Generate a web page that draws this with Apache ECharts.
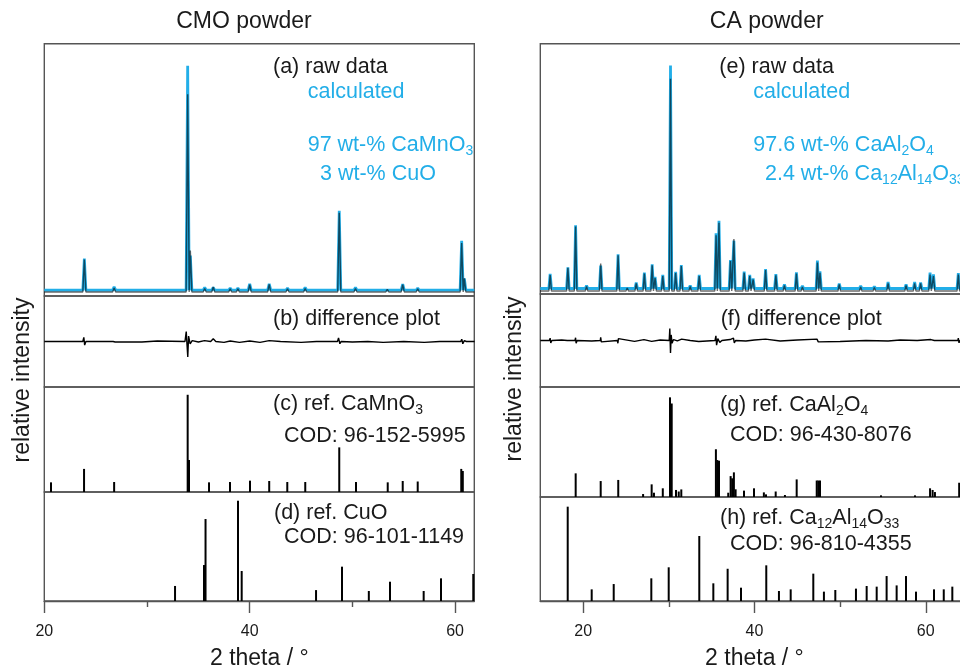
<!DOCTYPE html>
<html>
<head>
<meta charset="utf-8">
<script src="https://cdn.jsdelivr.net/npm/echarts@6.0.0/dist/echarts.min.js"></script>
<style>
  html, body { margin: 0; padding: 0; background: #fff; }
  #chart { width: 960px; height: 667px; }
</style>
</head>
<body>
<div id="chart"></div>
<script>
// tick labels
var majorTicks = [20, 40, 60];
var minorTicks = [30, 50];

// (a) CMO raw data / calculated: peak positions (2 theta) and heights (% of panel)
var cmoPos  = [23.9, 26.8, 33.96, 34.22, 35.62, 36.45, 38.1, 38.85, 40.0, 41.9, 43.68, 45.4, 48.72, 50.3, 53.4, 54.9, 56.36, 60.64, 60.9];
var cmoCalc = [14.8, 3.6, 91.3, 16, 3.4, 3.4, 3.2, 3.2, 4.8, 4.8, 3.2, 3.4, 33.8, 3.4, 3.0, 4.7, 3.2, 21.9, 7];
var cmoRaw  = [14.5, 3.2, 80, 18, 3.0, 3.6, 2.8, 2.8, 4.5, 4.6, 2.8, 3.0, 33.0, 3.0, 2.6, 4.5, 2.8, 21.0, 7];
var cmoCalcBase = 2.3;
var cmoRawBase = 1.6;

// (b) CMO difference plot
var cmoDiff = [
  [20, 0], [23.75, 0], [23.85, 0.09], [23.93, -0.08], [24.05, 0],
  [26.7, 0], [26.8, 0.03], [26.9, -0.01], [27, 0],
  [29.5, -0.01], [31, 0.01], [33.7, 0], [33.82, 0.22], [33.9, -0.08], [33.97, -0.34],
  [34.05, 0.12], [34.2, -0.05], [34.4, 0.02], [35, -0.01], [35.6, 0.02],
  [36.2, 0], [36.45, 0.06], [36.7, 0], [37.5, -0.02], [38.1, 0.01], [39, -0.02],
  [40, 0.01], [41, -0.02], [41.9, 0.02], [43, 0], [45, -0.02], [46.5, 0],
  [48.55, 0], [48.65, 0.08], [48.78, -0.05], [48.9, 0], [50, -0.01], [51.5, 0],
  [53, -0.02], [55, 0], [57, -0.02], [58.5, 0],
  [60.55, 0], [60.65, 0.05], [60.75, -0.05], [60.9, 0.02], [61.1, 0], [61.9, 0]
];

// (c) ref. CaMnO3 sticks
var cmoRefPos = [20.65, 23.87, 26.8, 33.96, 34.09, 36.04, 38.08, 40.03, 41.9, 43.66, 45.41, 48.72, 50.35, 53.44, 54.9, 56.36, 60.6, 60.75];
var cmoRefInt = [9.2, 22, 9.5, 92.6, 30.5, 9.2, 9.5, 10.8, 10.5, 9.5, 9.5, 42.5, 9.5, 9.2, 10.5, 10, 22, 20];

// (d) ref. CuO sticks
var cuoRefPos = [32.73, 35.55, 35.7, 38.86, 39.22, 46.46, 48.99, 51.6, 53.66, 56.94, 58.63, 61.77];
var cuoRefInt = [13.8, 33, 75.2, 92, 27.5, 10, 31.5, 9.2, 17.7, 9.2, 20.8, 24.8];

// (e) CA raw data / calculated
var caPos  = [16.15, 18.22, 19.12, 20.4, 22.05, 24.08, 25.15, 26.2, 27.15, 28.06, 28.4, 29.3, 30.2, 30.8, 31.46, 32.5, 33.55, 35.52, 35.86, 37.2, 37.6, 38.8, 39.45, 39.85, 41.3, 42.5, 43.5, 44.9, 45.6, 47.35, 47.65, 49.9, 52.4, 54.0, 55.6, 57.7, 58.7, 59.4, 60.5, 60.9, 63.8];
var caCalc = [8, 10.7, 27.5, 3.4, 11.4, 15.9, 2.8, 4.6, 8.5, 11.9, 6.8, 7.6, 91.3, 8.8, 11.6, 3.4, 7.6, 24.3, 29.3, 13.6, 21.3, 8.9, 7.6, 6.2, 10, 7.9, 3.8, 8.6, 3.2, 13.4, 9, 4.2, 3.2, 3, 4.8, 3.8, 4.8, 4.6, 8.5, 7.8, 8.3];
var caRaw  = [7.6, 10.5, 27, 3, 12.2, 15.5, 2.4, 4.2, 8.2, 11.5, 6.4, 7.2, 86, 8.4, 11.2, 3, 7.2, 23.5, 28.5, 13.2, 22, 8.5, 7.2, 5.8, 9.6, 7.5, 3.4, 8.2, 2.8, 12.6, 8.5, 3.8, 2.8, 2.6, 4.2, 3.4, 4.2, 4.2, 7.8, 7.2, 7.8];
var caCalcBase = 2.2;
var caRawBase = 1.2;

// (f) CA difference plot
var caDiff = [
  [15, 0], [16.05, 0], [16.15, 0.05], [16.22, -0.05], [16.35, 0],
  [17.5, 0.01], [18.15, 0], [18.22, 0.04], [18.28, -0.04], [18.4, 0],
  [19.05, 0], [19.12, 0.06], [19.18, -0.06], [19.3, 0],
  [21, -0.01], [22, 0], [22.05, 0.07], [22.12, -0.03], [22.3, 0],
  [24.0, 0], [24.06, -0.06], [24.12, 0.04], [24.3, 0],
  [26, -0.02], [27.1, 0.02], [28, -0.02], [29, 0.01],
  [30.05, 0], [30.12, 0.26], [30.2, -0.27], [30.28, 0.12], [30.38, -0.06], [30.55, 0.02],
  [31, -0.01], [31.5, 0.03], [32.5, 0], [33.5, -0.02],
  [35.4, 0], [35.5, 0.1], [35.58, -0.1], [35.72, 0.04], [35.86, 0.07], [35.95, -0.04], [36.2, 0],
  [37.15, 0.02], [37.3, -0.02], [37.55, 0.05], [37.65, -0.05], [37.8, 0],
  [39, -0.01], [40, 0.01], [41.3, 0.03], [41.4, 0], [43, -0.01], [45, 0.01],
  [47.3, 0.03], [47.45, -0.03], [47.6, 0], [50, -0.02], [53, 0], [55.6, -0.01],
  [57, 0.01], [59, 0], [60.6, 0.02], [60.8, -0.02], [61, 0],
  [63.75, 0], [63.8, 0.05], [63.88, -0.05], [64, 0], [65, 0]
];

// (g) ref. CaAl2O4 sticks
var caRefPos = [19.13, 22.05, 24.1, 27.0, 28.0, 28.27, 29.3, 30.14, 30.34, 30.84, 31.16, 31.46, 35.5, 35.66, 35.86, 36.94, 37.22, 37.4, 37.6, 37.8, 38.78, 39.95, 41.1, 41.35, 42.48, 43.56, 44.93, 47.27, 47.45, 47.65, 54.77, 58.74, 60.5, 60.8, 61.07, 63.9];
var caRefInt = [21.5, 14.5, 15.5, 2.7, 11.5, 3.9, 7.9, 90.6, 85, 6.4, 5, 6.9, 43.4, 33.6, 33, 3.9, 19, 17, 22.4, 7, 5.8, 7.9, 4.2, 2.4, 5, 1.8, 16, 15, 15, 15, 1.5, 1.5, 7.9, 6.4, 4.5, 13];

// (h) ref. Ca12Al14O33 sticks
var c12RefPos = [18.2, 21.0, 23.57, 27.96, 29.99, 33.56, 35.2, 36.87, 38.43, 41.38, 42.86, 44.23, 46.87, 48.11, 49.44, 51.85, 53.1, 54.27, 55.43, 56.6, 57.69, 58.86, 60.96, 62.1, 63.1];
var c12RefInt = [90.7, 11.2, 16.3, 21.8, 32.4, 62.5, 17, 31, 12.8, 34.3, 9.6, 11.2, 26.3, 9, 10.6, 11.9, 14.4, 13.8, 24, 15, 24, 9, 11.2, 11.2, 13.8];

var FONT = 'Liberation Sans';
var BLUE = '#22aee8';
var INK = '#1a1a1a';
var FRAME = '#555';
var HALF_W = 0.15;   // drawn half width of a peak, degrees

var L = { left: 44.3, width: 430, min: 20, max: 61.87 };
var R = { left: 540.3, width: 428.3, min: 15, max: 65 };

// peak list -> polyline vertices
function profile(pos, h, base, xmin, xmax) {
  var pts = [[xmin, base]];
  for (var i = 0; i < pos.length; i++) {
    pts.push([pos[i] - HALF_W, base], [pos[i], h[i]], [pos[i] + HALF_W, base]);
  }
  pts.push([xmax, base]);
  return pts;
}
function sticks(pos, h) {
  return pos.map(function (p, i) { return [p, h[i]]; });
}

var panels = [
  { col: L, top: 43.7, height: 252.3, ymin: 0, ymax: 100 },
  { col: L, top: 296, height: 91, ymin: -1, ymax: 1 },
  { col: L, top: 387, height: 105, ymin: 0, ymax: 100 },
  { col: L, top: 492, height: 109, ymin: 0, ymax: 100, bottom: true },
  { col: R, top: 43.7, height: 250.3, ymin: 0, ymax: 100 },
  { col: R, top: 294, height: 93, ymin: -1, ymax: 1 },
  { col: R, top: 387, height: 110, ymin: 0, ymax: 100 },
  { col: R, top: 497, height: 104, ymin: 0, ymax: 100, bottom: true }
];

var grids = [], xAxes = [], yAxes = [];
panels.forEach(function (p, i) {
  grids.push({
    left: p.col.left, top: p.top, width: p.col.width, height: p.height,
    outerBoundsMode: 'none', containLabel: false,
    show: true, borderColor: FRAME, borderWidth: 1.4, backgroundColor: 'transparent'
  });
  yAxes.push({ gridIndex: i, type: 'value', min: p.ymin, max: p.ymax, show: false });
  if (p.bottom) {
    xAxes.push({
      gridIndex: i, type: 'value', min: p.col.min, max: p.col.max, position: 'bottom',
      name: '2 theta / °', nameLocation: 'middle', nameGap: 46,
      nameTextStyle: { fontSize: 23, color: INK, fontFamily: FONT },
      axisLine: { show: true, onZero: false, lineStyle: { color: FRAME, width: 1.4 } },
      axisTick: { show: true, length: 12, customValues: majorTicks, lineStyle: { color: FRAME, width: 1.4 } },
      axisLabel: { show: true, margin: 23, customValues: majorTicks, fontSize: 16, color: INK, fontFamily: FONT },
      splitLine: { show: false }
    });
  } else {
    xAxes.push({ gridIndex: i, type: 'value', min: p.col.min, max: p.col.max, show: false });
  }
});
// minor ticks at 30 and 50 on both bottom panels
[3, 7].forEach(function (gi) {
  xAxes.push({
    gridIndex: gi, type: 'value', min: panels[gi].col.min, max: panels[gi].col.max, position: 'bottom',
    axisLine: { show: false, onZero: false },
    axisTick: { show: true, length: 6, customValues: minorTicks, lineStyle: { color: FRAME, width: 1.4 } },
    axisLabel: { show: false },
    splitLine: { show: false }
  });
});

function calcLine(idx, data) {
  return { type: 'line', xAxisIndex: idx, yAxisIndex: idx, data: data, showSymbol: false, silent: true,
    lineStyle: { color: BLUE, width: 2.8 }, z: 2 };
}
function rawLine(idx, data) {
  return { type: 'line', xAxisIndex: idx, yAxisIndex: idx, data: data, showSymbol: false, silent: true,
    lineStyle: { color: '#000', width: 1.4, opacity: 0.58 }, z: 3 };
}
function diffLine(idx, data) {
  return { type: 'line', xAxisIndex: idx, yAxisIndex: idx, data: data, showSymbol: false, silent: true,
    lineStyle: { color: '#000', width: 1.4 } };
}
function stickBars(idx, data) {
  return { type: 'bar', xAxisIndex: idx, yAxisIndex: idx, data: data, barWidth: 2, silent: true,
    itemStyle: { color: '#000' }, clip: true };
}

var series = [
  calcLine(0, profile(cmoPos, cmoCalc, cmoCalcBase, L.min, L.max)),
  rawLine(0, profile(cmoPos, cmoRaw, cmoRawBase, L.min, L.max)),
  diffLine(1, cmoDiff),
  stickBars(2, sticks(cmoRefPos, cmoRefInt)),
  stickBars(3, sticks(cuoRefPos, cuoRefInt)),
  calcLine(4, profile(caPos, caCalc, caCalcBase, R.min, R.max)),
  rawLine(4, profile(caPos, caRaw, caRawBase, R.min, R.max)),
  diffLine(5, caDiff),
  stickBars(6, sticks(caRefPos, caRefInt)),
  stickBars(7, sticks(c12RefPos, c12RefInt))
];

var RICH = {
  sb: { fontSize: 14, lineHeight: 14, verticalAlign: 'bottom', fill: BLUE, fontFamily: FONT },
  sk: { fontSize: 14, lineHeight: 14, verticalAlign: 'bottom', fill: INK, fontFamily: FONT }
};
function note(x, y, text, color) {
  return {
    type: 'text', x: x, y: y, silent: true,
    style: { text: text, fill: color, fontSize: 21.5, fontFamily: FONT, lineHeight: 26,
      align: 'left', verticalAlign: 'middle', rich: RICH }
  };
}
function heading(x, y, text, rot) {
  return {
    type: 'text', x: x, y: y, rotation: rot || 0, silent: true,
    style: { text: text, fill: INK, fontSize: 23, fontFamily: FONT, align: 'center', verticalAlign: 'middle' }
  };
}

var graphics = [
  heading(244, 21.5, 'CMO powder'),
  heading(766.7, 21.5, 'CA powder'),
  heading(22.5, 380, 'relative intensity', Math.PI / 2),
  heading(515, 379, 'relative intensity', Math.PI / 2),

  note(273, 67, '(a) raw data', INK),
  note(307.7, 92.5, 'calculated', BLUE),
  note(307.7, 144.7, '97 wt-% CaMnO{sb|3}', BLUE),
  note(320, 174, '3 wt-% CuO', BLUE),
  note(273, 319, '(b) difference plot', INK),
  note(273, 404, '(c) ref. CaMnO{sk|3}', INK),
  note(284, 435.8, 'COD: 96-152-5995', INK),
  note(274, 512.8, '(d) ref. CuO', INK),
  note(284, 537.5, 'COD: 96-101-1149', INK),

  note(719.3, 67, '(e) raw data', INK),
  note(753.3, 92.5, 'calculated', BLUE),
  note(753.3, 144.7, '97.6 wt-% CaAl{sb|2}O{sb|4}', BLUE),
  note(765, 174, '2.4 wt-% Ca{sb|12}Al{sb|14}O{sb|33}', BLUE),
  note(720.7, 319, '(f) difference plot', INK),
  note(720, 405.3, '(g) ref. CaAl{sk|2}O{sk|4}', INK),
  note(730, 434.8, 'COD: 96-430-8076', INK),
  note(720, 518.3, '(h) ref. Ca{sk|12}Al{sk|14}O{sk|33}', INK),
  note(730, 544.5, 'COD: 96-810-4355', INK)
];

var myChart = echarts.init(document.getElementById('chart'), null, { renderer: 'canvas' });
myChart.setOption({
  animation: false,
  backgroundColor: '#fff',
  textStyle: { fontFamily: FONT },
  grid: grids,
  xAxis: xAxes,
  yAxis: yAxes,
  series: series,
  graphic: graphics
});
</script>
</body>
</html>
